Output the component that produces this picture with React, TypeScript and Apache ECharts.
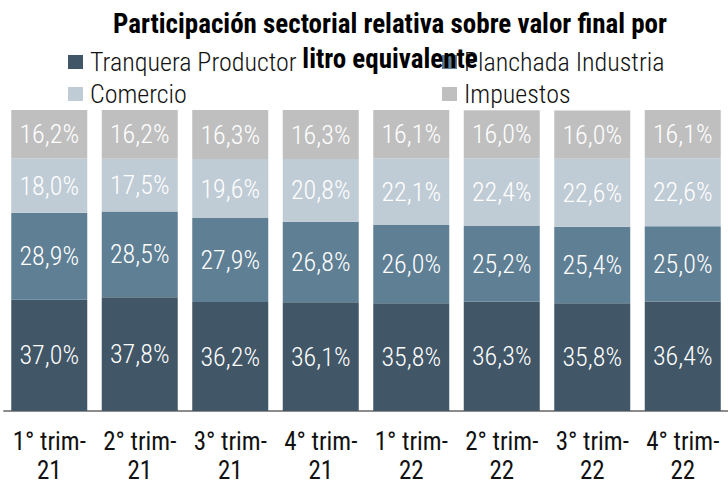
import React, { useEffect, useRef } from "react";
import * as echarts from "echarts";

const categories = ["1° trim-\n21", "2° trim-\n21", "3° trim-\n21", "4° trim-\n21", "1° trim-\n22", "2° trim-\n22", "3° trim-\n22", "4° trim-\n22"];
const tranquera = [37.0, 37.8, 36.2, 36.1, 35.8, 36.3, 35.8, 36.4];
const planchada = [28.9, 28.5, 27.9, 26.8, 26.0, 25.2, 25.4, 25.0];
const comercio = [18.0, 17.5, 19.6, 20.8, 22.1, 22.4, 22.6, 22.6];
const impuestos = [16.2, 16.2, 16.3, 16.3, 16.1, 16.0, 16.0, 16.1];

const FONT = "'Roboto Condensed', 'Liberation Sans Narrow', 'DejaVu Sans Condensed', 'Noto Sans', sans-serif";

export default function App() {
  const ref = useRef<HTMLDivElement>(null);
  useEffect(() => {
    const chart = echarts.init(ref.current!, null, { renderer: "svg" });
    const fmt = (p: any) => p.value.toFixed(1).replace(".", ",") + "%";
    const mk = (name: string, data: number[], color: string) => ({
      name,
      type: "bar",
      stack: "total",
      data,
      barWidth: 76,
      itemStyle: { color },
      label: { show: true, position: "inside", color: "#ffffff", fontSize: 26, fontWeight: 300, fontFamily: FONT, formatter: fmt },
    });
    const legendText = { fontSize: 26, fontWeight: 300, color: "#111", fontFamily: FONT, padding: [0, 0, 0, 2] };
    chart.setOption({
      animation: false,
      textStyle: { fontFamily: FONT },
      title: {
        text: "Participación sectorial relativa sobre valor final por\nlitro equivalente",
        left: 385,
        top: 1,
        textAlign: "center",
        z: 10,
        textStyle: { fontSize: 27, fontWeight: "bold", color: "#000", fontFamily: FONT, lineHeight: 35 },
      },
      legend: [
        {
          data: ["Tranquera Productor", "Comercio"],
          orient: "vertical",
          left: 63,
          top: 44,
          itemWidth: 15,
          itemHeight: 14,
          itemGap: 6,
          icon: "rect",
          z: 2,
          textStyle: legendText,
        },
        {
          data: ["Planchada Industria", "Impuestos"],
          orient: "vertical",
          left: 437,
          top: 44,
          itemWidth: 15,
          itemHeight: 14,
          itemGap: 6,
          icon: "rect",
          z: 2,
          textStyle: legendText,
        },
      ],
      grid: { left: 4, right: -7, top: 110, bottom: 75, containLabel: false },
      xAxis: {
        type: "category",
        data: categories,
        axisLine: { show: true, lineStyle: { color: "#8c8c8c", width: 2 } },
        axisTick: { show: false },
        axisLabel: { fontSize: 25, fontWeight: "normal", color: "#111", fontFamily: FONT, margin: 16, lineHeight: 29, interval: 0 },
      },
      yAxis: { type: "value", min: 0, max: 100, show: false, splitLine: { show: false } },
      series: [
        mk("Tranquera Productor", tranquera, "#415666"),
        mk("Planchada Industria", planchada, "#5f7f95"),
        mk("Comercio", comercio, "#bfcbd5"),
        mk("Impuestos", impuestos, "#bfbfbf"),
      ],
    });
    return () => chart.dispose();
  }, []);
  return <div ref={ref} style={{ width: 728, height: 486, position: "absolute", left: 0, top: 0 }} />;
}
